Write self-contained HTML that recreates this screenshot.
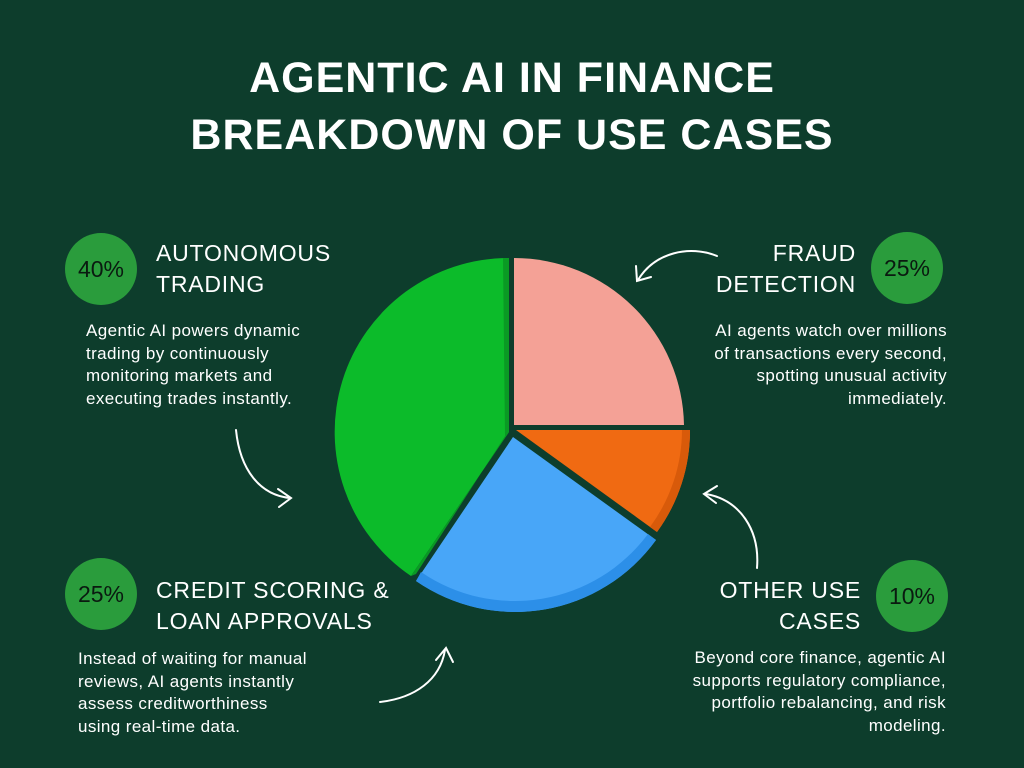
<!DOCTYPE html>
<html><head><meta charset="utf-8"><style>
body{margin:0;width:1024px;height:768px;background:#0d3d2c;position:relative;overflow:hidden;font-family:"Liberation Sans","DejaVu Sans",sans-serif;color:#fff}
.t{position:absolute;left:0;width:1024px;text-align:center;font-size:43px;font-weight:bold;letter-spacing:1px;line-height:57px;top:50px}
.c{position:absolute;width:72px;height:72px;border-radius:50%;background:#2a9c3c;color:#0a1a10;font-size:23px;text-align:center;line-height:72px}
.h{position:absolute;font-size:23px;line-height:31px;letter-spacing:.8px}
.p{position:absolute;font-size:17px;line-height:22.5px;letter-spacing:.4px;white-space:nowrap}
.r{text-align:right}
</style></head><body>
<div class="t">AGENTIC AI IN FINANCE<br>BREAKDOWN OF USE CASES</div>
<div class="c" style="left:65px;top:233px">40%</div>
<div class="h" style="left:156px;top:238px">AUTONOMOUS<br>TRADING</div>
<div class="p" style="left:86px;top:320px">Agentic AI powers dynamic<br>trading by continuously<br>monitoring markets and<br>executing trades instantly.</div>
<div class="c" style="left:871px;top:232px">25%</div>
<div class="h r" style="right:168px;top:238px">FRAUD<br>DETECTION</div>
<div class="p r" style="right:77px;top:320px">AI agents watch over millions<br>of transactions every second,<br>spotting unusual activity<br>immediately.</div>
<div class="c" style="left:65px;top:558px">25%</div>
<div class="h" style="left:156px;top:575px">CREDIT SCORING &amp;<br>LOAN APPROVALS</div>
<div class="p" style="left:78px;top:648px">Instead of waiting for manual<br>reviews, AI agents instantly<br>assess creditworthiness<br>using real-time data.</div>
<div class="c" style="left:876px;top:560px">10%</div>
<div class="h r" style="right:163px;top:575px">OTHER USE<br>CASES</div>
<div class="p r" style="right:78px;top:647px">Beyond core finance, agentic AI<br>supports regulatory compliance,<br>portfolio rebalancing, and risk<br>modeling.</div>
<svg width="1024" height="768" style="position:absolute;left:0;top:0">
<path d="M514,425 L514,258 A170,170 0 0 1 684,425 Z" fill="#f4a196"/>
<path d="M516,430 L690,430 A172,172 0 0 1 657,532 Z" fill="#f06a12"/>
<path d="M690,430 A172,172 0 0 1 657,532 L650,527 A164,164 0 0 0 682,430 Z" fill="#d85a0a"/>
<path d="M513,437 L656,540 A174,174 0 0 1 416,581 Z" fill="#48a6f8"/>
<path d="M656,540 A174,174 0 0 1 416,581 L421,572 A166,166 0 0 0 648,534 Z" fill="#2c8fe8"/>
<path d="M509,432 L411,576 A174,174 0 0 1 509,258 Z" fill="#0cbb2a"/>
<path d="M509,258 L509,432 L411,576 L416,574 L505,436 L503,258 Z" fill="#0a9a24"/>
<g fill="none" stroke="#fff" stroke-width="2" stroke-linecap="round">
<path d="M717,256 C690,245 655,252 638,280"/><path d="M636,266 L637,281 L651,277"/>
<path d="M236,430 C240,470 260,495 290,498"/><path d="M278,489 L291,498 L279,507"/>
<path d="M380,702 C415,698 440,680 445,650"/><path d="M436,660 L446,648 L453,662"/>
<path d="M757,568 C760,530 740,500 706,494"/><path d="M717,486 L704,494 L716,503"/>
</g>
</svg>
</body></html>
